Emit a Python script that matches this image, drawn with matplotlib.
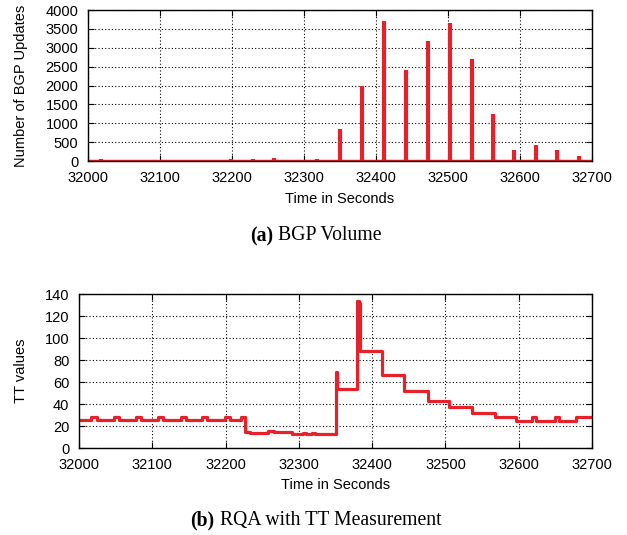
import matplotlib
matplotlib.use("Agg")
import matplotlib.pyplot as plt

# ---- data ----
bgp_times = [32018, 32049, 32078, 32109, 32139, 32169, 32199, 32229, 32259, 32289,
             32318, 32350, 32380, 32411, 32441, 32472, 32503, 32533, 32563, 32592,
             32622, 32652, 32682]
bgp_values = [60, 30, 25, 30, 30, 30, 40, 50, 80, 30,
              50, 850, 2000, 3700, 2400, 3180, 3650, 2700, 1250, 290,
              420, 290, 130]

tt_times = [32000, 32017, 32024, 32048, 32055, 32078, 32085, 32108, 32115, 32139,
            32146, 32168, 32175, 32199, 32206, 32221, 32227, 32233, 32258, 32266,
            32290, 32305, 32310, 32318, 32322, 32350, 32352, 32380, 32382, 32384,
            32414, 32444, 32476, 32505, 32536, 32567, 32596, 32618, 32624, 32649,
            32655, 32678, 32700]
tt_values = [25.5, 28, 25.5, 28, 25.5, 28, 25.5, 28, 25.5, 28,
             25.5, 28, 25.5, 28, 25.5, 28, 14.5, 14, 15.5, 14.5,
             13, 13.5, 13, 13.5, 13, 69, 54, 134, 132, 88,
             66, 52, 43, 37, 31.5, 28.5, 25, 28, 25, 28,
             25, 28.5, 28.5]

xticks = [32000, 32100, 32200, 32300, 32400, 32500, 32600, 32700]
bgp_yticks = [0, 500, 1000, 1500, 2000, 2500, 3000, 3500, 4000]
tt_yticks = [0, 20, 40, 60, 80, 100, 120, 140]

RED = "#e8202a"
W, H = 627, 535
plt.rcParams['font.family'] = ['Liberation Sans', 'DejaVu Sans']

fig = plt.figure(figsize=(W / 100, H / 100), dpi=100)


def px_axes(left, top, right, bottom):
    return fig.add_axes([left / W, 1 - bottom / H, (right - left) / W, (bottom - top) / H])


def style(ax):
    ax.set_xlim(32000, 32700)
    ax.set_xticks(xticks)
    ax.grid(True, color="black", linestyle=(0, (1, 2)), linewidth=0.8)
    ax.tick_params(direction="in", top=True, right=True, length=4, width=0.8,
                   labelsize=10.5, colors="black")
    ax.tick_params(axis="x", pad=7)
    ax.tick_params(axis="y", pad=7)
    for s in ax.spines.values():
        s.set_linewidth(1.0)
        s.set_zorder(5)
    ax.set_xlabel("Time in Seconds", fontsize=10.5)


# top chart
ax1 = px_axes(88, 10, 592, 161)
ax1.vlines(bgp_times, 0, bgp_values, color=RED, linewidth=3.0, zorder=3)
ax1.plot([32000, 32700], [0, 0], color=RED, linewidth=2.5, zorder=3)
ax1.set_ylim(0, 4000)
ax1.set_yticks(bgp_yticks)
style(ax1)
ax1.set_ylabel("Number of BGP Updates", fontsize=10.5)
ax1.yaxis.set_label_coords(-0.120, 0.5)
ax1.xaxis.set_label_coords(0.5, -0.205)

# bottom chart
ax2 = px_axes(79, 294, 592, 448)
ax2.plot(tt_times, tt_values, drawstyle="steps-post", color=RED, linewidth=2.3, zorder=3)
ax2.set_ylim(0, 140)
ax2.set_yticks(tt_yticks)
style(ax2)
ax2.set_ylabel("TT values", fontsize=10.5)
ax2.yaxis.set_label_coords(-0.100, 0.5)
ax2.xaxis.set_label_coords(0.5, -0.195)

# captions
serif = ['Liberation Serif', 'DejaVu Serif']
fig.text(250 / W, 1 - 236 / H, "(a)", family=serif, weight="bold", fontsize=14.2, va="center", ha="left")
fig.text(278 / W, 1 - 236 / H, "BGP Volume", family=serif, fontsize=14.2, va="center", ha="left")
fig.text(190 / W, 1 - 520 / H, "(b)", family=serif, weight="bold", fontsize=14.2, va="center", ha="left")
fig.text(220 / W, 1 - 520 / H, "RQA with TT Measurement", family=serif, fontsize=14.2, va="center", ha="left")

fig.savefig("out.png", dpi=100)
